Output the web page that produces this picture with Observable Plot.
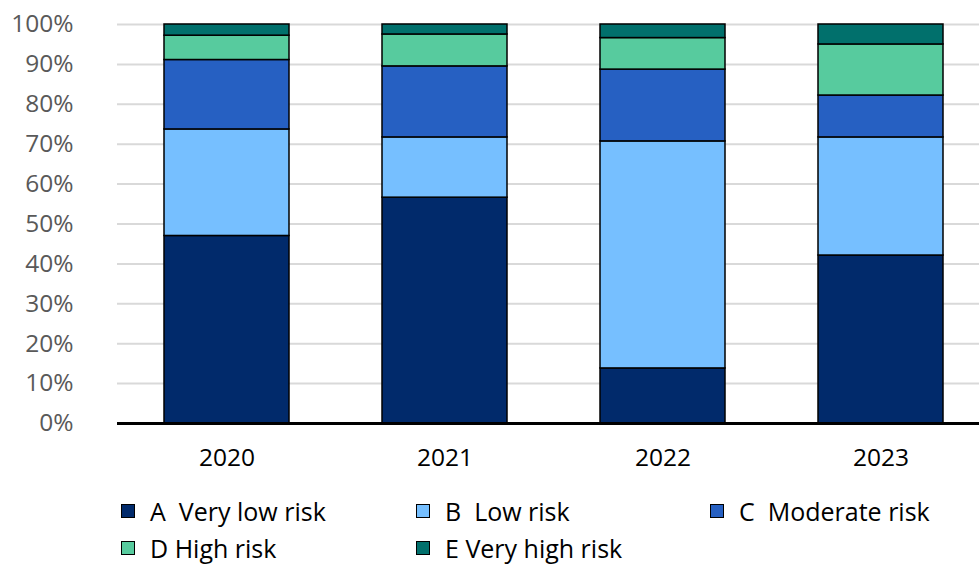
<!DOCTYPE html>
<html>
<head>
<meta charset="utf-8">
<script src="https://cdn.jsdelivr.net/npm/d3@7"></script>
<script src="https://cdn.jsdelivr.net/npm/@observablehq/plot@0.6"></script>
<style>
  html, body { margin: 0; padding: 0; background: #fff; }
  body { width: 979px; height: 565px; overflow: hidden; font-family: "Open Sans", sans-serif; }
  #chart svg { display: block; }
  .legend { position: relative; height: 85px; font-size: 25px; color: #000; }
  .item { position: absolute; display: flex; align-items: center; white-space: pre; }
  .swatch { width: 12px; height: 12px; border: 1.5px solid #000; margin-right: 15px; }
</style>
</head>
<body>
<div id="chart"></div>
<div class="legend" id="legend"></div>
<script>
// Share of portfolio by risk class, per year (percent)
const years = ["2020", "2021", "2022", "2023"];
const riskClasses = ["A  Very low risk", "B  Low risk", "C  Moderate risk", "D High risk", "E Very high risk"];
const veryLow  = [47.0, 56.6, 13.8, 42.1];
const low      = [26.7, 15.1, 56.9, 29.6];
const moderate = [17.4, 17.8, 18.0, 10.5];
const high     = [6.1, 8.0, 7.9, 12.8];
const veryHigh = [2.8, 2.5, 3.4, 5.0];
const classColors = ["#012a6b", "#76bfff", "#2660c2", "#57cb9e", "#01706c"];
const yTicks = [0, 10, 20, 30, 40, 50, 60, 70, 80, 90, 100];

const series = [veryLow, low, moderate, high, veryHigh];
const rows = [];
riskClasses.forEach((risk, i) => {
  years.forEach((year, j) => rows.push({year, risk, value: series[i][j]}));
});

const chart = Plot.plot({
  width: 979,
  height: 480,
  marginTop: 24,
  marginBottom: 57,
  marginLeft: 117,
  marginRight: 0,
  x: {domain: years, range: [117, 989], paddingInner: 0.427, paddingOuter: 0.2135},
  y: {domain: [0, 100]},
  color: {domain: riskClasses, range: classColors},
  marks: [
    Plot.ruleY(yTicks.slice(1), {stroke: "#d9d9d9", strokeWidth: 2}),
    Plot.barY(rows, {x: "year", y: "value", fill: "risk", stroke: "#000", strokeWidth: 1.5}),
    Plot.ruleY([0], {stroke: "#000", strokeWidth: 3}),
    Plot.axisY({ticks: yTicks, tickFormat: d => d + "%", tickSize: 0, tickPadding: 44,
                fontSize: 24.5, fill: "#595959", label: null}),
    Plot.axisX({tickSize: 0, tickPadding: 25, fontSize: 24.5, fill: "#000", label: null})
  ],
  style: {fontFamily: "Open Sans, sans-serif", overflow: "hidden"}
});
document.getElementById("chart").append(chart);

// Legend laid out in three columns, two rows
const legendPos = [[121, 0], [416, 0], [710, 0], [121, 37], [416, 37]];
const legend = document.getElementById("legend");
riskClasses.forEach((risk, i) => {
  const item = document.createElement("div");
  item.className = "item";
  item.style.left = legendPos[i][0] + "px";
  item.style.top = (legendPos[i][1] + 14) + "px";
  const sw = document.createElement("span");
  sw.className = "swatch";
  sw.style.background = classColors[i];
  const label = document.createElement("span");
  label.textContent = risk;
  item.append(sw, label);
  legend.append(item);
});
</script>
</body>
</html>
